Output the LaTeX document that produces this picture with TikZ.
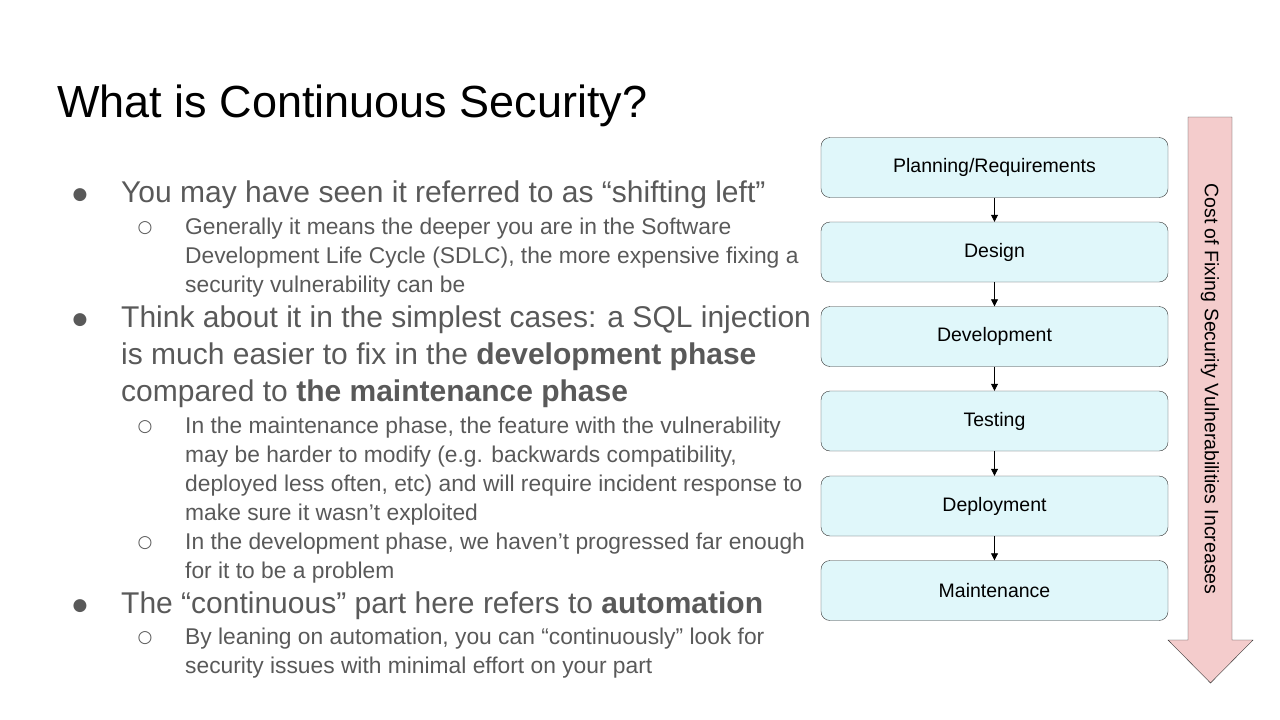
\documentclass[tikz,border=0pt]{standalone}
\usepackage{fontspec}
\setmainfont{Liberation Sans}
\newfontfamily\symfont{DejaVu Sans}
\usetikzlibrary{positioning,arrows.meta}
\definecolor{bodygray}{HTML}{595959}
\definecolor{phasefill}{HTML}{E0F7FA}
\definecolor{costfill}{HTML}{F4CCCC}
\tikzset{
  phase/.style={draw=black!80,fill=phasefill,rounded corners=9pt,minimum width=347pt,minimum height=60pt,font=\fontsize{19.5}{22}\selectfont},
  main/.style={anchor=base west,inner sep=0pt,text=bodygray,font=\fontsize{30}{37}\selectfont},
  sub/.style={anchor=base west,inner sep=0pt,text=bodygray,font=\fontsize{22.8}{29}\selectfont},
  dot/.style={anchor=base,inner sep=0pt,text=bodygray,font=\symfont\fontsize{17}{17}\selectfont},
  flow/.style={-{Triangle[length=7pt,width=7pt]},thick}
}
\begin{document}
\begin{tikzpicture}[x=1pt,y=-1pt]
\useasboundingbox (0,0) rectangle (1280,720);
\node(title) at (57,117)[anchor=base west,inner sep=0pt,font=\fontsize{45}{45}\selectfont]{What is Continuous Security?};
% bullets
\node(d1) at (80,199)[dot]{●};
\node(b1) at (121,202)[main]{You may have seen it referred to as “shifting left”};
\node(c1) at (145,232)[dot]{○};
\node(s1a) at (185,234)[sub]{Generally it means the deeper you are in the Software};
\node(s1b) at (185,263)[sub]{Development Life Cycle (SDLC), the more expensive fixing a};
\node(s1c) at (185,292)[sub]{security vulnerability can be};
\node(d2) at (80,324)[dot]{●};
\node(b2a) at (121,327)[main]{Think about it in the simplest cases: a SQL injection};
\node(b2b) at (121,364)[main]{is much easier to fix in the \textbf{development phase}};
\node(b2c) at (121,401)[main]{compared to \textbf{the maintenance phase}};
\node(c2) at (145,431)[dot]{○};
\node(s2a) at (185,433)[sub]{In the maintenance phase, the feature with the vulnerability};
\node(s2b) at (185,462)[sub]{may be harder to modify (e.g. backwards compatibility,};
\node(s2c) at (185,491)[sub]{deployed less often, etc) and will require incident response to};
\node(s2d) at (185,520)[sub]{make sure it wasn’t exploited};
\node(c3) at (145,547)[dot]{○};
\node(s3a) at (185,549)[sub]{In the development phase, we haven’t progressed far enough};
\node(s3b) at (185,578)[sub]{for it to be a problem};
\node(d3) at (80,610)[dot]{●};
\node(b3) at (121,613)[main]{The “continuous” part here refers to \textbf{automation}};
\node(c4) at (145,642)[dot]{○};
\node(s4a) at (185,644)[sub]{By leaning on automation, you can “continuously” look for};
\node(s4b) at (185,673)[sub]{security issues with minimal effort on your part};
% phases
\node(p1) at (994.5,167.5)[phase]{Planning/Requirements};
\node(p2) at (994.5,252)[phase]{Design};
\node(p3) at (994.5,336.5)[phase]{Development};
\node(p4) at (994.5,421)[phase]{Testing};
\node(p5) at (994.5,506)[phase]{Deployment};
\node(p6) at (994.5,590.5)[phase]{Maintenance};
\foreach \a/\b in {p1/p2,p2/p3,p3/p4,p4/p5,p5/p6}
  \draw[flow] (\a) -- (\b);
% cost arrow
\draw[draw=black!80,fill=costfill] (1188,117) -- (1232,117) -- (1232,640) -- (1253,640) -- (1210.5,683) -- (1168,640) -- (1188,640) -- cycle;
\node(cost) at (1210,389)[rotate=-90,font=\fontsize{19.5}{22}\selectfont]{Cost of Fixing Security Vulnerabilities Increases};
\end{tikzpicture}
\end{document}
